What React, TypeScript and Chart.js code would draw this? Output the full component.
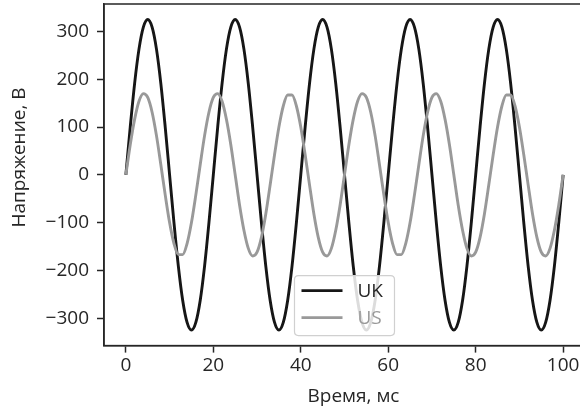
import React, { useEffect, useRef } from "react";
import { Chart, registerables } from "chart.js";

Chart.register(...registerables);

const TIME_MS = [
  0, 1, 2, 3, 4, 5, 6, 7, 8, 9, 10, 11, 12, 13, 14, 15, 16, 17, 18, 19,
  20, 21, 22, 23, 24, 25, 26, 27, 28, 29, 30, 31, 32, 33, 34, 35, 36, 37, 38, 39,
  40, 41, 42, 43, 44, 45, 46, 47, 48, 49, 50, 51, 52, 53, 54, 55, 56, 57, 58, 59,
  60, 61, 62, 63, 64, 65, 66, 67, 68, 69, 70, 71, 72, 73, 74, 75, 76, 77, 78, 79,
  80, 81, 82, 83, 84, 85, 86, 87, 88, 89, 90, 91, 92, 93, 94, 95, 96, 97, 98, 99,
  100,
];

const UK_VOLTS = [
  0, 100, 191, 263, 309, 325, 309, 263, 191, 100, 0, -100, -191, -263, -309, -325, -309, -263, -191, -100,
  0, 100, 191, 263, 309, 325, 309, 263, 191, 100, 0, -100, -191, -263, -309, -325, -309, -263, -191, -100,
  0, 100, 191, 263, 309, 325, 309, 263, 191, 100, 0, -100, -191, -263, -309, -325, -309, -263, -191, -100,
  0, 100, 191, 263, 309, 325, 309, 263, 191, 100, 0, -100, -191, -263, -309, -325, -309, -263, -191, -100,
  0, 100, 191, 263, 309, 325, 309, 263, 191, 100, 0, -100, -191, -263, -309, -325, -309, -263, -191, -100,
  0,
];

const US_VOLTS = [
  0, 63, 116, 154, 170, 162, 131, 82, 21, -42, -100, -144, -167, -167, -144, -100, -42, 21, 82, 131,
  162, 170, 154, 116, 63, 0, -63, -116, -154, -170, -162, -131, -82, -21, 42, 100, 144, 167, 167, 144,
  100, 42, -21, -82, -131, -162, -170, -154, -116, -63, 0, 63, 116, 154, 170, 162, 131, 82, 21, -42,
  -100, -144, -167, -167, -144, -100, -42, 21, 82, 131, 162, 170, 154, 116, 63, 0, -63, -116, -154, -170,
  -162, -131, -82, -21, 42, 100, 144, 167, 167, 144, 100, 42, -21, -82, -131, -162, -170, -154, -116, -63,
  0,
];

const X_TICKS = [0, 20, 40, 60, 80, 100];
const Y_TICKS = [-300, -200, -100, 0, 100, 200, 300];

const SERIES_LABELS = ["UK", "US"];
const SERIES_COLORS = ["#161616", "#999999"];
const X_TITLE = "Время, мс";
const Y_TITLE = "Напряжение, В";

const FONT_FAMILY = "'Open Sans', sans-serif";
const FONT_SIZE = 19;
const TEXT_COLOR = "#262626";
const AXIS_COLOR = "#262626";

const frameAndLegend = {
  id: "frameAndLegend",
  afterDraw(chart: any) {
    const { ctx, chartArea } = chart;
    ctx.save();
    // full frame (top/right spines)
    ctx.strokeStyle = AXIS_COLOR;
    ctx.lineWidth = 1.5;
    ctx.strokeRect(chartArea.left, chartArea.top, chartArea.right - chartArea.left, chartArea.bottom - chartArea.top);

    // axis titles
    ctx.font = `${FONT_SIZE}px ${FONT_FAMILY}`;
    ctx.fillStyle = TEXT_COLOR;
    ctx.textAlign = "center";
    ctx.textBaseline = "alphabetic";
    ctx.fillText(X_TITLE, 353.5, 402);
    ctx.save();
    ctx.translate(25, 157.5);
    ctx.rotate(-Math.PI / 2);
    ctx.fillText(Y_TITLE, 0, 0);
    ctx.restore();

    // legend (lower center)
    const w = 100;
    const h = 60;
    const cx = (chartArea.left + chartArea.right) / 2;
    const x = cx - w / 2;
    const y = chartArea.bottom - 10 - h;
    const r = 4;
    ctx.beginPath();
    ctx.moveTo(x + r, y);
    ctx.lineTo(x + w - r, y);
    ctx.quadraticCurveTo(x + w, y, x + w, y + r);
    ctx.lineTo(x + w, y + h - r);
    ctx.quadraticCurveTo(x + w, y + h, x + w - r, y + h);
    ctx.lineTo(x + r, y + h);
    ctx.quadraticCurveTo(x, y + h, x, y + h - r);
    ctx.lineTo(x, y + r);
    ctx.quadraticCurveTo(x, y, x + r, y);
    ctx.closePath();
    ctx.fillStyle = "rgba(255,255,255,0.85)";
    ctx.fill();
    ctx.strokeStyle = "#d0d0d0";
    ctx.lineWidth = 1.2;
    ctx.stroke();

    ctx.font = `${FONT_SIZE}px ${FONT_FAMILY}`;
    ctx.textBaseline = "middle";
    ctx.textAlign = "left";
    SERIES_LABELS.forEach((label, i) => {
      const ly = y + 15 + i * 27;
      ctx.strokeStyle = SERIES_COLORS[i];
      ctx.lineWidth = 2.9;
      ctx.beginPath();
      ctx.moveTo(x + 7, ly);
      ctx.lineTo(x + 48, ly);
      ctx.stroke();
      ctx.fillStyle = i === 0 ? TEXT_COLOR : SERIES_COLORS[i];
      ctx.fillText(label, x + 63, ly + 1);
    });
    ctx.restore();
  },
};

export default function App() {
  const ref = useRef<HTMLCanvasElement | null>(null);

  useEffect(() => {
    if (!ref.current) return;
    const ukPoints = TIME_MS.map((t, i) => ({ x: t, y: UK_VOLTS[i] }));
    const usPoints = TIME_MS.map((t, i) => ({ x: t, y: US_VOLTS[i] }));
    const chart = new Chart(ref.current, {
      type: "line",
      data: {
        datasets: [
          {
            label: SERIES_LABELS[0],
            data: ukPoints,
            borderColor: SERIES_COLORS[0],
            borderWidth: 2.9,
            pointRadius: 0,
            cubicInterpolationMode: "monotone",
            order: 1,
          },
          {
            label: SERIES_LABELS[1],
            data: usPoints,
            borderColor: SERIES_COLORS[1],
            borderWidth: 2.9,
            pointRadius: 0,
            cubicInterpolationMode: "monotone",
            order: 0,
          },
        ],
      },
      options: {
        animation: false,
        responsive: false,
        devicePixelRatio: 1,
        layout: { padding: { left: 0, top: 4, right: 15, bottom: 0 } },
        plugins: { legend: { display: false }, tooltip: { enabled: false } },
        scales: {
          x: {
            type: "linear",
            min: -5,
            max: 105,
            afterBuildTicks: (scale: any) => {
              scale.ticks = X_TICKS.map((v) => ({ value: v }));
            },
            afterFit: (scale: any) => {
              scale.height = 60.4;
              scale.paddingLeft = 0;
              scale.paddingRight = 0;
            },
            grid: {
              display: true,
              drawOnChartArea: false,
              drawTicks: true,
              tickLength: 7,
              tickWidth: 1.5,
              color: AXIS_COLOR,
            },
            border: { display: true, color: AXIS_COLOR, width: 1.5 },
            ticks: {
              color: TEXT_COLOR,
              font: { family: FONT_FAMILY, size: FONT_SIZE },
              padding: 2,
              maxRotation: 0,
              callback: (v: any) => String(v).replace("-", "\u2212"),
            },
          },
          y: {
            type: "linear",
            min: -357.5,
            max: 357.5,
            afterBuildTicks: (scale: any) => {
              scale.ticks = Y_TICKS.map((v) => ({ value: v }));
            },
            afterFit: (scale: any) => {
              scale.width = 104;
              scale.paddingTop = 0;
              scale.paddingBottom = 0;
            },
            grid: {
              display: true,
              drawOnChartArea: false,
              drawTicks: true,
              tickLength: 7,
              tickWidth: 1.5,
              color: AXIS_COLOR,
            },
            border: { display: true, color: AXIS_COLOR, width: 1.5 },
            ticks: {
              color: TEXT_COLOR,
              font: { family: FONT_FAMILY, size: FONT_SIZE },
              padding: 8,
              callback: (v: any) => String(v).replace("-", "\u2212"),
            },
          },
        },
      },
      plugins: [frameAndLegend],
    });
    return () => chart.destroy();
  }, []);

  return (
    <div
      style={{
        position: "fixed",
        left: 0,
        top: 0,
        width: 580,
        height: 406,
        overflow: "hidden",
        background: "#ffffff",
      }}
    >
      <canvas ref={ref} width={600} height={406} style={{ display: "block" }} />
    </div>
  );
}
